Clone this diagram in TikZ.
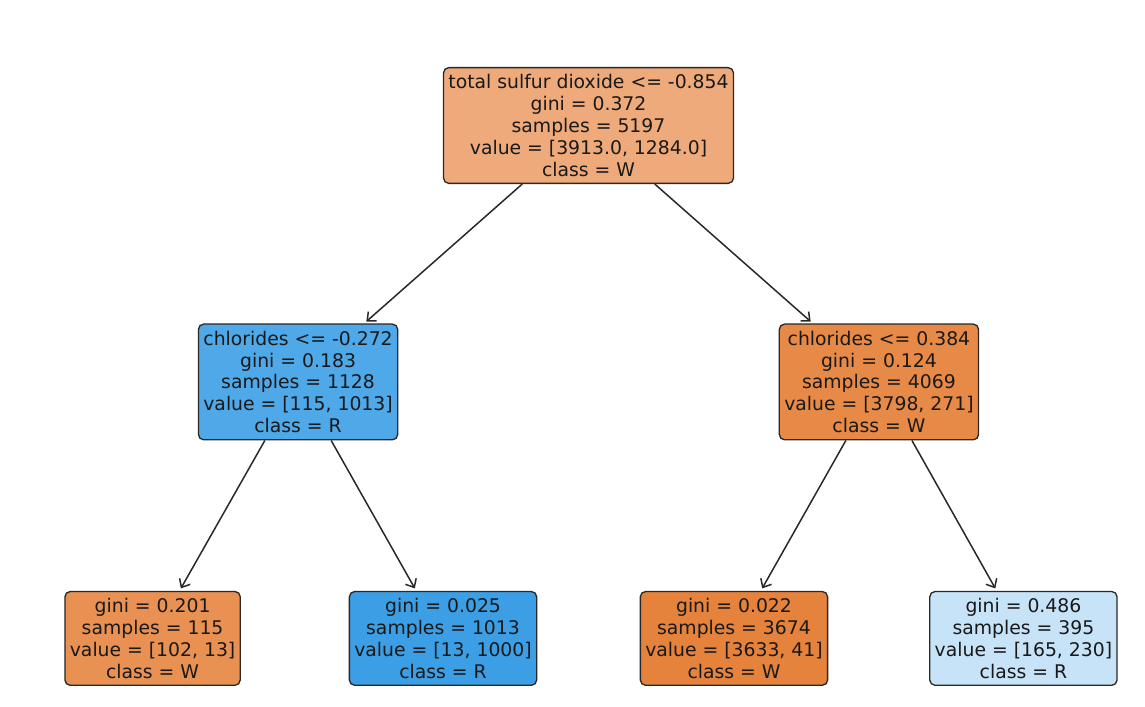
\documentclass[tikz,border=0pt]{standalone}
\usepackage{xcolor}
\usepackage{fontspec}
\setmainfont{DejaVu Sans}
\usetikzlibrary{arrows.meta}

\definecolor{rootfill}{RGB}{238,170,122}
\definecolor{chlafill}{RGB}{79,168,232}
\definecolor{chlbfill}{RGB}{231,138,71}
\definecolor{leafafill}{RGB}{232,145,82}
\definecolor{leafbfill}{RGB}{60,158,229}
\definecolor{leafcfill}{RGB}{229,130,59}
\definecolor{leafdfill}{RGB}{199,227,248}
\definecolor{edgegray}{RGB}{40,40,40}

\tikzset{
  treebox/.style={draw=edgegray, line width=0.75pt, rounded corners=3pt, align=center,
    inner xsep=2.8pt, inner ysep=3.8pt, text=black!90,
    font=\fontsize{10.7}{12.5}\selectfont},
  split/.style={->, >={Straight Barb[length=4pt,width=7pt]}, line width=0.85pt, edgegray, shorten >=1.6pt}
}

\begin{document}
\begin{tikzpicture}[x=0.02cm, y=-0.02cm, node distance=5.13cm]
      \useasboundingbox (0,0) rectangle (1145,706);
      % Nodo raiz
      \node[treebox, fill=rootfill] (root) at (588.5,125.5) {total sulfur dioxide <= -0.854\\gini = 0.372\\samples = 5197\\value = [3913.0, 1284.0]\\class = W};
      % Primer nivel
      \node[treebox, fill=chlafill, below of=root, xshift=-5.81cm] (chla) {chlorides <= -0.272\\gini = 0.183\\samples = 1128\\value = [115, 1013]\\class = R};
      \node[treebox, fill=chlbfill, below of=root, xshift=5.81cm] (chlb) {chlorides <= 0.384\\gini = 0.124\\samples = 4069\\value = [3798, 271]\\class = W};
      % Hojas
      \node[treebox, fill=leafafill, below of=chla, xshift=-2.91cm] (leafa) {gini = 0.201\\samples = 115\\value = [102, 13]\\class = W};
      \node[treebox, fill=leafbfill, below of=chla, xshift=2.9cm] (leafb) {gini = 0.025\\samples = 1013\\value = [13, 1000]\\class = R};
      \node[treebox, fill=leafcfill, below of=chlb, xshift=-2.9cm] (leafc) {gini = 0.022\\samples = 3674\\value = [3633, 41]\\class = W};
      \node[treebox, fill=leafdfill, below of=chlb, xshift=2.89cm] (leafd) {gini = 0.486\\samples = 395\\value = [165, 230]\\class = R};

      % Flechas
      \draw[split] (root) -- (chla);
      \draw[split] (root) -- (chlb);
      \draw[split] (chla) -- (leafa);
      \draw[split] (chla) -- (leafb);
      \draw[split] (chlb) -- (leafc);
      \draw[split] (chlb) -- (leafd);
    \end{tikzpicture}
\end{document}
